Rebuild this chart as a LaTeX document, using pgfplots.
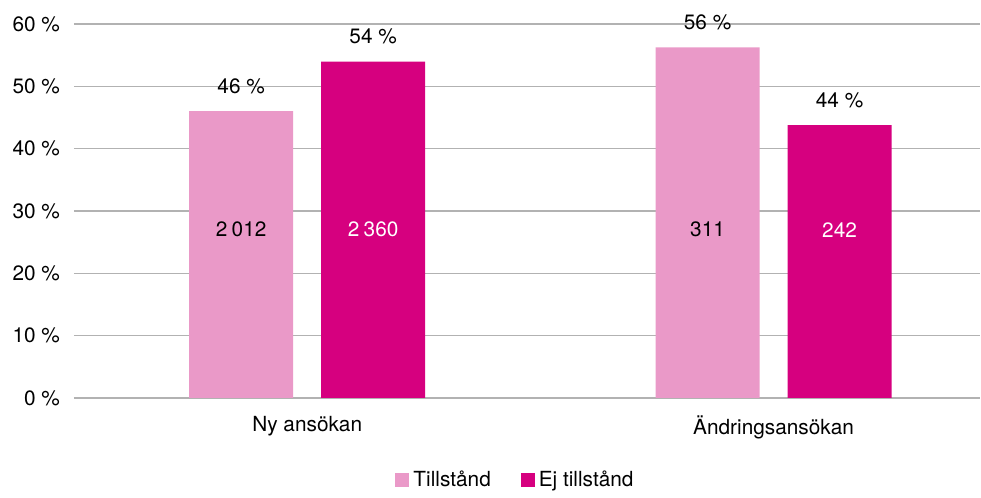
\documentclass[border=0pt]{standalone}
\usepackage{pgfplots}
\pgfplotsset{compat=1.18}
\usepackage{fontspec}
\setmainfont{TeX Gyre Heros}
\definecolor{tillstand}{RGB}{234,153,200}
\definecolor{ejtillstand}{RGB}{214,0,127}
\definecolor{gridgray}{RGB}{178,178,178}
\newcommand{\lblfont}{\fontsize{10.4}{12.5}\selectfont}
\newcommand{\thsp}{\hspace{0.2em}}

\begin{document}
\begin{tikzpicture}
\begin{axis}[
  scale only axis, width=453pt, height=187pt,
  xmin=-0.5, xmax=1.4426, ymin=0, ymax=60,
  ybar, bar width=52pt,
  xtick={0,1}, xticklabels={Ny ansökan, Ändringsansökan},
  ytick={0,10,...,60},
  yticklabel={\pgfmathprintnumber{\tick}~\%},
  /pgf/number format/assume math mode=true,
  ymajorgrids, grid style={gridgray, line width=0.6pt},
  axis line style={draw=none}, major tick length=0pt,
  tick label style={font=\lblfont, text=black},
  yticklabel style={xshift=-3.5pt},
  xticklabel style={yshift=-5.5pt},
  clip=false,
  nodes near coords,
  point meta=explicit symbolic,
  every node near coord/.append style={anchor=center, yshift=12.5pt, font=\lblfont, text=black},
  legend columns=2,
  legend style={draw=none, at={(0.4884,-0.2195)}, anchor=center, font=\lblfont,
    /tikz/every even column/.append style={column sep=13pt},
    nodes={inner sep=2pt}},
  legend image code/.code={\fill[#1,draw=none] (0pt,-3.5pt) rectangle (7pt,3.5pt);},
]
% Share of decisions per application type (counts printed inside the bars)
\addplot[fill=tillstand, draw=none, bar shift=-33pt]
  coordinates {(0,46.02)[46 \%] (1,56.24)[56 \%]};
\addlegendentry{Tillstånd}
\addplot[fill=ejtillstand, draw=none, bar shift=33pt]
  coordinates {(0,53.98)[54 \%] (1,43.76)[44 \%]};
\addlegendentry{Ej tillstånd}

\node[font=\lblfont, text=black, xshift=-33pt] at (axis cs:0,27) {2\thsp012};
\node[font=\lblfont, text=white, xshift=33pt] at (axis cs:0,27) {2\thsp360};
\node[font=\lblfont, text=black, xshift=-33pt] at (axis cs:1,27) {311};
\node[font=\lblfont, text=white, xshift=33pt] at (axis cs:1,27) {242};
\end{axis}
\path ([shift={(-37pt,-45pt)}]current axis.south west) rectangle ([shift={(0.5pt,12pt)}]current axis.north east);
\end{tikzpicture}
\end{document}
